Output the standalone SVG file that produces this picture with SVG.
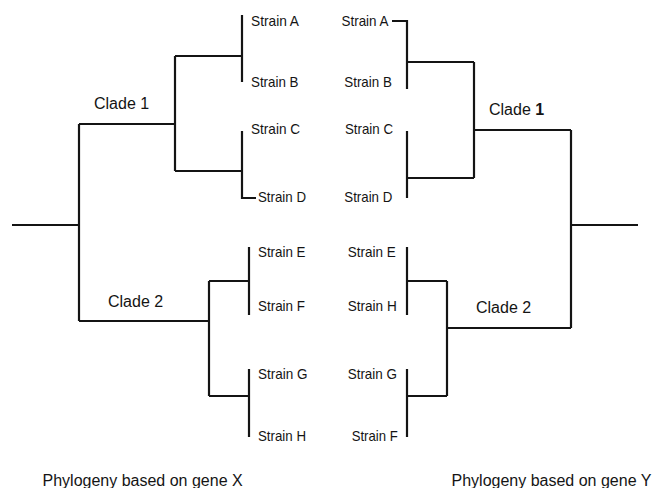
<svg xmlns="http://www.w3.org/2000/svg" width="660" height="488" viewBox="0 0 660 488">
  <style>
    .edge { fill: none; stroke: #141414; stroke-width: 2.2; stroke-linecap: butt; stroke-linejoin: miter; }
    .leaf { font-family: "Liberation Sans", Arial, sans-serif; font-size: 15px; fill: #141414; }
    .clade { font-family: "Liberation Sans", Arial, sans-serif; font-size: 16px; fill: #141414; }
    .caption { font-family: "Liberation Sans", Arial, sans-serif; font-size: 16px; fill: #141414; }
    .r { text-anchor: end; }
  </style>
  <rect width="660" height="488" fill="#ffffff"/>

  <!-- Branches of both trees -->
  <g id="connectors">
    <!-- Tree built from gene X -->
    <path class="edge" d="M12 225 H79"/>
    <path class="edge" d="M79 124 V321"/>
    <path class="edge" d="M79 124 H175"/>
    <path class="edge" d="M175 56 V171"/>
    <path class="edge" d="M175 56 H242"/>
    <path class="edge" d="M242 15 V82"/>
    <path class="edge" d="M175 171 H242"/>
    <path class="edge" d="M242 131 V198 H256"/>
    <path class="edge" d="M79 321 H209"/>
    <path class="edge" d="M209 281 V396"/>
    <path class="edge" d="M209 281 H249"/>
    <path class="edge" d="M249 247 V315"/>
    <path class="edge" d="M209 396 H249"/>
    <path class="edge" d="M249 369 V437"/>

    <!-- Tree built from gene Y -->
    <path class="edge" d="M392 21 H407 V89"/>
    <path class="edge" d="M407 62 H474"/>
    <path class="edge" d="M474 62 V178"/>
    <path class="edge" d="M407 178 H474"/>
    <path class="edge" d="M407 131 V198"/>
    <path class="edge" d="M474 130 H571"/>
    <path class="edge" d="M571 130 V328"/>
    <path class="edge" d="M571 225 H638"/>
    <path class="edge" d="M407 247 V315"/>
    <path class="edge" d="M407 281 H447"/>
    <path class="edge" d="M447 281 V396"/>
    <path class="edge" d="M407 396 H447"/>
    <path class="edge" d="M407 369 V437"/>
    <path class="edge" d="M447 328 H571"/>
  </g>

  <!-- Leaves, gene X tree -->
  <g id="x-strain-a"><text class="leaf" x="251" y="26" textLength="48" lengthAdjust="spacingAndGlyphs">Strain A</text></g>
  <g id="x-strain-b"><text class="leaf" x="251" y="87" textLength="47.5" lengthAdjust="spacingAndGlyphs">Strain B</text></g>
  <g id="x-strain-c"><text class="leaf" x="251" y="134" textLength="49" lengthAdjust="spacingAndGlyphs">Strain C</text></g>
  <g id="x-strain-d"><text class="leaf" x="258" y="202" textLength="48" lengthAdjust="spacingAndGlyphs">Strain D</text></g>
  <g id="x-strain-e"><text class="leaf" x="258" y="257" textLength="47.5" lengthAdjust="spacingAndGlyphs">Strain E</text></g>
  <g id="x-strain-f"><text class="leaf" x="258" y="311" textLength="47" lengthAdjust="spacingAndGlyphs">Strain F</text></g>
  <g id="x-strain-g"><text class="leaf" x="258" y="379" textLength="49.5" lengthAdjust="spacingAndGlyphs">Strain G</text></g>
  <g id="x-strain-h"><text class="leaf" x="258" y="441" textLength="48" lengthAdjust="spacingAndGlyphs">Strain H</text></g>

  <!-- Leaves, gene Y tree -->
  <g id="y-strain-a"><text class="leaf" x="341.5" y="26" textLength="47" lengthAdjust="spacingAndGlyphs">Strain A</text></g>
  <g id="y-strain-b"><text class="leaf" x="344.3" y="87" textLength="47.5" lengthAdjust="spacingAndGlyphs">Strain B</text></g>
  <g id="y-strain-c"><text class="leaf" x="345" y="134" textLength="48" lengthAdjust="spacingAndGlyphs">Strain C</text></g>
  <g id="y-strain-d"><text class="leaf" x="344.3" y="202" textLength="48" lengthAdjust="spacingAndGlyphs">Strain D</text></g>
  <g id="y-strain-e"><text class="leaf" x="347.7" y="257" textLength="48" lengthAdjust="spacingAndGlyphs">Strain E</text></g>
  <g id="y-strain-h"><text class="leaf" x="347.7" y="311" textLength="49" lengthAdjust="spacingAndGlyphs">Strain H</text></g>
  <g id="y-strain-g"><text class="leaf" x="347.7" y="379" textLength="49.3" lengthAdjust="spacingAndGlyphs">Strain G</text></g>
  <g id="y-strain-f"><text class="leaf" x="351.7" y="441" textLength="46" lengthAdjust="spacingAndGlyphs">Strain F</text></g>

  <!-- Clade labels -->
  <g id="x-clade-1"><text class="clade" x="94" y="109">Clade 1</text></g>
  <g id="x-clade-2"><text class="clade" x="108" y="307">Clade 2</text></g>
  <g id="y-clade-1"><text class="clade" x="489" y="115">Clade <tspan font-weight="bold">1</tspan></text></g>
  <g id="y-clade-2"><text class="clade" x="476" y="313">Clade 2</text></g>

  <!-- Captions -->
  <g id="caption-x"><text class="caption" x="42.5" y="486">Phylogeny based on gene X</text></g>
  <g id="caption-y"><text class="caption" x="451.5" y="486">Phylogeny based on gene Y</text></g>
</svg>
